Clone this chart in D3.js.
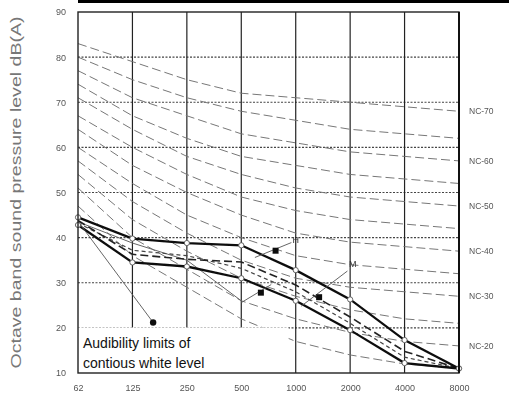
<!DOCTYPE html>
<html>
<head>
<meta charset="utf-8">
<script src="https://cdn.jsdelivr.net/npm/d3@7"></script>
<style>
  html, body { margin: 0; padding: 0; background: #fff; }
  svg { display: block; font-family: "Liberation Sans", Arial, sans-serif; }
</style>
</head>
<body>
<svg id="chart" width="509" height="403"></svg>
<script>
// octave band centre frequencies (as printed)
const bands = ["62", "125", "250", "500", "1000", "2000", "4000", "8000"];
const yTicks = [10, 20, 30, 40, 50, 60, 70, 80, 90];

// NC rating curves, dB per octave band
const ncLevels = [15, 20, 25, 30, 35, 40, 45, 50, 55, 60, 65, 70];
const ncCurves = [
  [47, 36, 29, 22, 17, 14, 12, 11],
  [51, 40, 33, 26, 22, 19, 17, 16],
  [54, 44, 37, 31, 27, 24, 22, 21],
  [57, 48, 41, 35, 31, 29, 28, 27],
  [60, 52, 45, 40, 36, 34, 33, 32],
  [64, 56, 50, 45, 41, 39, 38, 37],
  [67, 60, 54, 49, 46, 44, 43, 42],
  [71, 64, 58, 54, 51, 49, 48, 47],
  [74, 67, 62, 58, 56, 54, 53, 52],
  [77, 71, 67, 63, 61, 59, 58, 57],
  [80, 75, 71, 68, 66, 64, 63, 62],
  [83, 79, 75, 72, 71, 70, 69, 68]
];
const ncLabelled = [20, 30, 40, 50, 60, 70];

const upperSolid = [44.5, 39.8, 38.8, 38.3, 32.8, 26.3, 17.3, 11];
const lowerSolid = [42.8, 34.5, 33.6, 31.0, 26.0, 19.5, 12.2, 11];
const midDashed  = [43.8, 36.3, 35.2, 34.6, 29.5, 22.4, 14.8, 11];
const fineDashed = [43.2, 37.2, 36.0, 33.2, 28.0, 21.0, 13.5, 11];
const thinLine   = [43.5, 38.8, 35.0, 26.0];

// annotation leaders: [index, dB] pairs
const leaderH = [[3.25, 35.6], [3.92, 38.9]];
const leaderM = [[4.1, 24.8], [4.95, 32.6]];
const leaderL = [[3.0, 25.6], [3.55, 29.6]];
const leaderA = [[0.05, 42.8], [1.38, 21.2]];
const squares = [[3.63, 37.1], [4.43, 26.8], [3.36, 27.8]];
const labelH = [4.0, 38.9];
const labelM = [5.05, 33.6];

const noteLines = ["Audibility limits of", "contious white level"];

const svg = d3.select("#chart");
const margin = { left: 78, right: 50, top: 12, bottom: 30 };
const W = 509, H = 403;

const x = d3.scaleLinear().domain([0, bands.length - 1]).range([margin.left, W - margin.right]);
const y = d3.scaleLinear().domain([10, 90]).range([H - margin.bottom, margin.top]);

const defs = svg.append("defs");
defs.append("filter").attr("id", "soft")
  .append("feGaussianBlur").attr("stdDeviation", 0.45);

// black bar at the very top of the scan
svg.append("rect")
  .attr("x", margin.left).attr("y", 0)
  .attr("width", W - margin.left).attr("height", 3)
  .attr("fill", "#000");

const g = svg.append("g").attr("filter", "url(#soft)");

// grid
g.append("g").selectAll("line").data(yTicks.slice(1, -1)).join("line")
  .attr("x1", x(0)).attr("x2", x(7))
  .attr("y1", d => y(d)).attr("y2", d => y(d))
  .attr("stroke", "#444").attr("stroke-width", 1.2)
  .attr("stroke-dasharray", "2,1.5");

g.append("g").selectAll("line").data(d3.range(1, 7)).join("line")
  .attr("x1", d => x(d)).attr("x2", d => x(d))
  .attr("y1", y(90)).attr("y2", y(10))
  .attr("stroke", "#222").attr("stroke-width", 1.2);

// NC curves
const line = d3.line().x((d, i) => x(i)).y(d => y(d));
g.append("g").selectAll("path").data(ncCurves).join("path")
  .attr("d", line)
  .attr("fill", "none")
  .attr("stroke", "#777")
  .attr("stroke-width", 1)
  .attr("stroke-dasharray", "9,4");

// thin lines from the 62 Hz point
g.append("path").datum(thinLine).attr("d", line)
  .attr("fill", "none").attr("stroke", "#666").attr("stroke-width", 1);

// data lines
g.append("path").datum(fineDashed).attr("d", line)
  .attr("fill", "none").attr("stroke", "#444").attr("stroke-width", 1.2)
  .attr("stroke-dasharray", "4,3");
g.append("path").datum(midDashed).attr("d", line)
  .attr("fill", "none").attr("stroke", "#222").attr("stroke-width", 1.6)
  .attr("stroke-dasharray", "8,4");
[upperSolid, lowerSolid].forEach(s => {
  g.append("path").datum(s).attr("d", line)
    .attr("fill", "none").attr("stroke", "#111").attr("stroke-width", 2.3);
  g.append("g").selectAll("circle").data(s).join("circle")
    .attr("cx", (d, i) => x(i)).attr("cy", d => y(d))
    .attr("r", 2.6).attr("fill", "#fff").attr("stroke", "#555").attr("stroke-width", 0.9);
});

// leaders + markers
const pt = d3.line().x(d => x(d[0])).y(d => y(d[1]));
[leaderH, leaderM, leaderL, leaderA].forEach(l => {
  g.append("path").attr("d", pt(l))
    .attr("fill", "none").attr("stroke", "#555").attr("stroke-width", 0.9);
});
g.append("g").selectAll("rect").data(squares).join("rect")
  .attr("x", d => x(d[0]) - 3).attr("y", d => y(d[1]) - 3)
  .attr("width", 6).attr("height", 6).attr("fill", "#111");
g.append("circle")
  .attr("cx", x(leaderA[1][0])).attr("cy", y(leaderA[1][1]))
  .attr("r", 3.2).attr("fill", "#111");

g.append("text").attr("x", x(labelH[0])).attr("y", y(labelH[1]))
  .attr("font-size", 9).attr("fill", "#333").attr("text-anchor", "middle").text("H");
g.append("text").attr("x", x(labelM[0])).attr("y", y(labelM[1]))
  .attr("font-size", 9).attr("fill", "#333").attr("text-anchor", "middle").text("M");

// axes labels
const xAxis = d3.axisBottom(x).tickValues(d3.range(bands.length))
  .tickFormat(i => bands[i]).tickSize(0).tickPadding(12);
const xg = g.append("g").attr("transform", `translate(0,${y(10)})`).call(xAxis);
const yAxis = d3.axisLeft(y).tickValues(yTicks).tickSize(0).tickPadding(12);
const yg = g.append("g").attr("transform", `translate(${x(0)},0)`).call(yAxis);
[xg, yg].forEach(a => {
  a.select(".domain").remove();
  a.selectAll("text").attr("font-size", 9).attr("fill", "#555")
    .attr("font-family", "'Liberation Sans', Arial, sans-serif");
});

// NC labels on the right
g.append("g").selectAll("text").data(ncLabelled).join("text")
  .attr("x", x(7) + 10)
  .attr("y", d => y(ncCurves[ncLevels.indexOf(d)][7]) + 3)
  .attr("font-size", 8.5).attr("fill", "#555")
  .text(d => "NC-" + d);

// y title
svg.append("text")
  .attr("transform", `translate(21,${(y(10) + y(90)) / 2}) rotate(-90)`)
  .attr("text-anchor", "middle")
  .attr("font-size", 15).attr("fill", "#777")
  .attr("textLength", 352).attr("lengthAdjust", "spacingAndGlyphs")
  .text("Octave band sound pressure level dB(A)");

// note box (sharp, not blurred)
const boxX0 = x(0), boxX1 = x(3.87), boxY0 = y(20.1), boxY1 = y(10);
svg.append("rect")
  .attr("x", boxX0).attr("y", boxY0)
  .attr("width", boxX1 - boxX0).attr("height", boxY1 - boxY0)
  .attr("fill", "#fff");
svg.append("g").selectAll("text").data(noteLines).join("text")
  .attr("x", boxX0 + 5)
  .attr("y", (d, i) => boxY0 + 21 + i * 20)
  .attr("font-size", 14).attr("fill", "#111")
  .attr("font-family", "'Liberation Sans', Arial, sans-serif")
  .text(d => d);

// frame
svg.append("rect")
  .attr("x", x(0)).attr("y", y(90))
  .attr("width", x(7) - x(0)).attr("height", y(10) - y(90))
  .attr("fill", "none").attr("stroke", "#222").attr("stroke-width", 1.4);
svg.append("line")
  .attr("x1", x(7)).attr("x2", x(7)).attr("y1", y(90)).attr("y2", y(10))
  .attr("stroke", "#111").attr("stroke-width", 2);
</script>
</body>
</html>
